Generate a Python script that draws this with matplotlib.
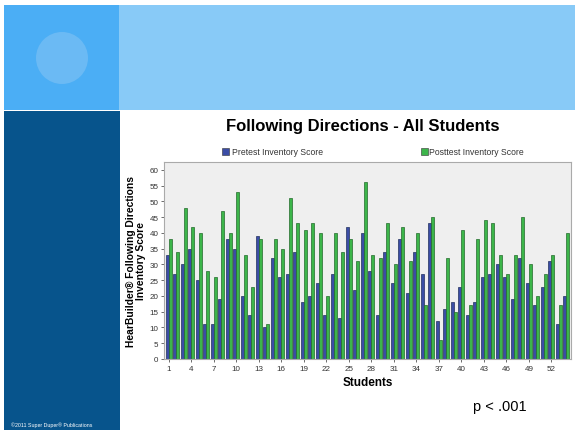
import numpy as np
import matplotlib.pyplot as plt
from matplotlib.patches import Rectangle, Ellipse

plt.rcParams['font.family'] = ['Liberation Sans', 'DejaVu Sans']

# scores, students 1..54
students = np.arange(1, 55)
pretest = [33, 27, 30, 35, 25, 11, 11, 19, 38, 35, 20, 14, 39, 10, 32, 26, 27, 34,
           18, 20, 24, 14, 27, 13, 42, 22, 40, 28, 14, 34, 24, 38, 21, 34, 27, 43,
           12, 16, 18, 23, 14, 18, 26, 27, 30, 26, 19, 32, 24, 17, 23, 31, 11, 20]
posttest = [38, 34, 48, 42, 40, 28, 26, 47, 40, 53, 33, 23, 38, 11, 38, 35, 51, 43,
            41, 43, 40, 20, 40, 34, 38, 31, 56, 33, 32, 43, 30, 42, 31, 40, 17, 45,
            6, 32, 15, 41, 17, 38, 44, 43, 33, 27, 33, 45, 30, 20, 27, 33, 17, 40]
xticks = list(range(1, 55, 3))
yticks = list(range(0, 61, 5))

W, H = 575, 431
fig = plt.figure(figsize=(W / 100, H / 100), dpi=100)
fig.patch.set_facecolor('white')

# slide decoration (figure pixel coords, origin top-left)
bg = fig.add_axes([0, 0, 1, 1])
bg.set_xlim(0, W)
bg.set_ylim(H, 0)
bg.axis('off')
bg.add_patch(Rectangle((119, 6), W - 119, 105, color='#88caf7', lw=0))
bg.add_patch(Rectangle((4, 6), 115, 105, color='#4baef5', lw=0))
bg.add_patch(Rectangle((4, 112), 116, H - 112, color='#07548c', lw=0))
bg.add_patch(Ellipse((62, 59), 52, 52, color='#6bbaf4', lw=0))
bg.text(52, 425, '©2011 Super Duper® Publications', color='white', fontsize=3.8,
        ha='center', va='center')
bg.text(500, 407, 'p < .001', fontsize=10.5, ha='center', va='center')
bg.text(363, 127, 'Following Directions - All Students', fontsize=12,
        fontweight='bold', ha='center', va='center')

# legend
bg.add_patch(Rectangle((222, 149), 7, 7, facecolor='#3b4da6', edgecolor='#333333', lw=0.4))
bg.text(232, 153, 'Pretest Inventory Score', fontsize=6.2, va='center', color='#333333')
bg.add_patch(Rectangle((421, 149), 7, 7, facecolor='#3cb54a', edgecolor='#333333', lw=0.4))
bg.text(429, 153, 'Posttest Inventory Score', fontsize=6.2, va='center', color='#333333')

ax = fig.add_axes([164 / W, 1 - 360 / H, (571 - 164) / W, (360 - 163) / H])
ax.set_facecolor('#efefef')
w = 0.4
ax.bar(students - w / 2, pretest, width=w, color='#3b4da6', edgecolor='#22305e', lw=0.5)
ax.bar(students + w / 2, posttest, width=w, color='#3cb54a', edgecolor='#236b2b', lw=0.5)
ax.set_xlim(0.4, 54.6)
ax.set_ylim(0, 62.5)
ax.set_xticks(xticks)
ax.set_yticks(yticks)
ax.tick_params(labelsize=5.8, length=2.5, width=0.5, colors='#333333', pad=1.5)
for s in ax.spines.values():
    s.set_color('#aaaaaa')
    s.set_linewidth(0.8)
ax.set_xlabel('Students', fontsize=8.5, fontweight='bold', labelpad=3)
ax.set_ylabel('HearBuilder® Following Directions\nInventory Score', fontsize=7.4,
              fontweight='bold', linespacing=1.05)
ax.yaxis.set_label_coords(-0.043, 0.5)

fig.savefig('out.png', dpi=100)
